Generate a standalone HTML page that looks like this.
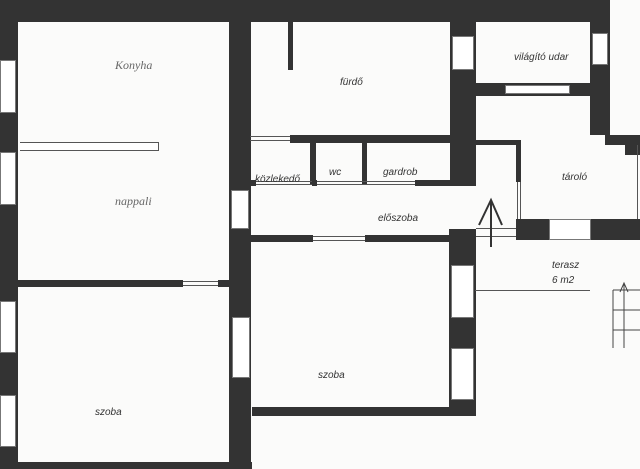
<!DOCTYPE html>
<html><head><meta charset="utf-8"><style>
body{margin:0;width:640px;height:469px;background:#fbfbfa;position:relative;overflow:hidden;font-family:"Liberation Sans",sans-serif}
.w{position:absolute;background:#333}
.win{position:absolute;background:#fff;border:1px solid #777;box-sizing:border-box}
.t{position:absolute;font-style:italic;font-size:10px;color:#333;white-space:nowrap}
.h{position:absolute;font-family:"Liberation Serif",serif;font-style:italic;font-size:12px;color:#666}
.ln{position:absolute;background:#555}
</style></head><body>
<!-- top wall -->
<div class="w" style="left:0;top:0;width:610px;height:22px"></div>
<!-- left wall -->
<div class="w" style="left:0;top:0;width:18px;height:469px"></div>
<div class="win" style="left:0;top:60px;width:16px;height:53px"></div>
<div class="win" style="left:0;top:152px;width:16px;height:53px"></div>
<div class="win" style="left:0;top:301px;width:16px;height:52px"></div>
<div class="win" style="left:0;top:395px;width:16px;height:52px"></div>
<!-- bottom wall left -->
<div class="w" style="left:0;top:462px;width:252px;height:7px"></div>
<!-- central vertical wall -->
<div class="w" style="left:229px;top:0;width:22px;height:469px"></div>
<div class="win" style="left:231px;top:190px;width:18px;height:39px"></div>
<div class="win" style="left:232px;top:317px;width:18px;height:61px"></div>
<!-- nappali/szoba wall -->
<div class="w" style="left:18px;top:280px;width:165px;height:7px"></div>
<div class="w" style="left:218px;top:280px;width:12px;height:7px"></div>
<div class="ln" style="left:183px;top:281px;width:35px;height:1px"></div>
<div class="ln" style="left:183px;top:285px;width:35px;height:1px"></div>
<!-- kitchen partition -->
<div style="position:absolute;left:20px;top:142px;width:138px;height:7px;border:1px solid #555;border-left:none;background:#fff"></div>
<!-- fürdő stub -->
<div class="w" style="left:288px;top:20px;width:5px;height:50px"></div>
<!-- wall x450-476 -->
<div class="w" style="left:450px;top:0;width:26px;height:186px"></div>
<div class="win" style="left:452px;top:36px;width:22px;height:34px"></div>
<!-- fürdő bottom wall -->
<div class="w" style="left:290px;top:135px;width:160px;height:8px"></div>
<div class="ln" style="left:250px;top:136px;width:40px;height:1px"></div>
<div class="ln" style="left:250px;top:140px;width:40px;height:1px"></div>
<div class="w" style="left:310px;top:140px;width:6px;height:45px"></div>
<div class="w" style="left:362px;top:140px;width:5px;height:45px"></div>
<!-- bottom of wc row -->
<div class="w" style="left:250px;top:180px;width:6px;height:6px"></div>
<div class="ln" style="left:256px;top:181px;width:190px;height:1px"></div>
<div class="ln" style="left:256px;top:184px;width:190px;height:1px"></div>
<div class="w" style="left:312px;top:180px;width:5px;height:6px"></div>
<div class="w" style="left:415px;top:180px;width:40px;height:6px"></div>
<!-- előszoba bottom wall -->
<div class="w" style="left:250px;top:235px;width:63px;height:7px"></div>
<div class="w" style="left:365px;top:235px;width:85px;height:7px"></div>
<div class="ln" style="left:313px;top:236px;width:52px;height:1px"></div>
<div class="ln" style="left:313px;top:240px;width:52px;height:1px"></div>
<!-- pillar right of szoba2 -->
<div class="w" style="left:449px;top:229px;width:27px;height:187px"></div>
<div class="win" style="left:451px;top:265px;width:23px;height:53px"></div>
<div class="win" style="left:451px;top:348px;width:23px;height:52px"></div>
<div class="w" style="left:252px;top:407px;width:224px;height:9px"></div>
<!-- világító udar -->
<div class="w" style="left:590px;top:0;width:20px;height:135px"></div>
<div class="win" style="left:592px;top:33px;width:16px;height:32px"></div>
<div class="w" style="left:476px;top:83px;width:114px;height:13px"></div>
<div class="win" style="left:505px;top:85px;width:65px;height:9px"></div>
<!-- tároló -->
<div class="w" style="left:605px;top:135px;width:35px;height:10px"></div>
<div class="w" style="left:625px;top:135px;width:15px;height:20px"></div>
<div class="ln" style="left:637px;top:145px;width:1px;height:75px"></div>
<div class="w" style="left:476px;top:140px;width:45px;height:5px"></div>
<div class="w" style="left:516px;top:140px;width:5px;height:42px"></div>
<div class="ln" style="left:517px;top:182px;width:1px;height:37px"></div>
<div class="ln" style="left:520px;top:182px;width:1px;height:37px"></div>
<div class="w" style="left:516px;top:219px;width:33px;height:21px"></div>
<div class="win" style="left:549px;top:219px;width:42px;height:21px"></div>
<div class="w" style="left:591px;top:219px;width:49px;height:21px"></div>
<div class="ln" style="left:476px;top:228px;width:40px;height:1px"></div>
<div class="ln" style="left:476px;top:236px;width:40px;height:1px"></div>
<!-- arrow -->
<svg style="position:absolute;left:475px;top:195px" width="30" height="55"><path d="M16 52V5M4 30L16 5L27 30" stroke="#333" stroke-width="2" fill="none"/></svg>
<!-- terasz line and grid -->
<div class="ln" style="left:475px;top:290px;width:115px;height:1px"></div>
<svg style="position:absolute;left:612px;top:280px" width="28" height="70"><path d="M1 10V68M1 10H28M1 30H28M1 50H28M12 68V3M8 12L12 3L16 12" stroke="#444" fill="none"/></svg>
<!-- labels -->
<div class="h" style="left:115px;top:58px">Konyha</div>
<div class="h" style="left:115px;top:194px">nappali</div>
<div class="t" style="left:340px;top:77px">fürdő</div>
<div class="t" style="left:514px;top:52px">világító udar</div>
<div class="t" style="left:255px;top:174px">közlekedő</div>
<div class="t" style="left:329px;top:167px">wc</div>
<div class="t" style="left:383px;top:167px">gardrob</div>
<div class="t" style="left:378px;top:213px">előszoba</div>
<div class="t" style="left:562px;top:172px">tároló</div>
<div class="t" style="left:552px;top:260px">terasz</div>
<div class="t" style="left:552px;top:275px">6 m2</div>
<div class="t" style="left:318px;top:370px">szoba</div>
<div class="t" style="left:95px;top:407px">szoba</div>
</body></html>
